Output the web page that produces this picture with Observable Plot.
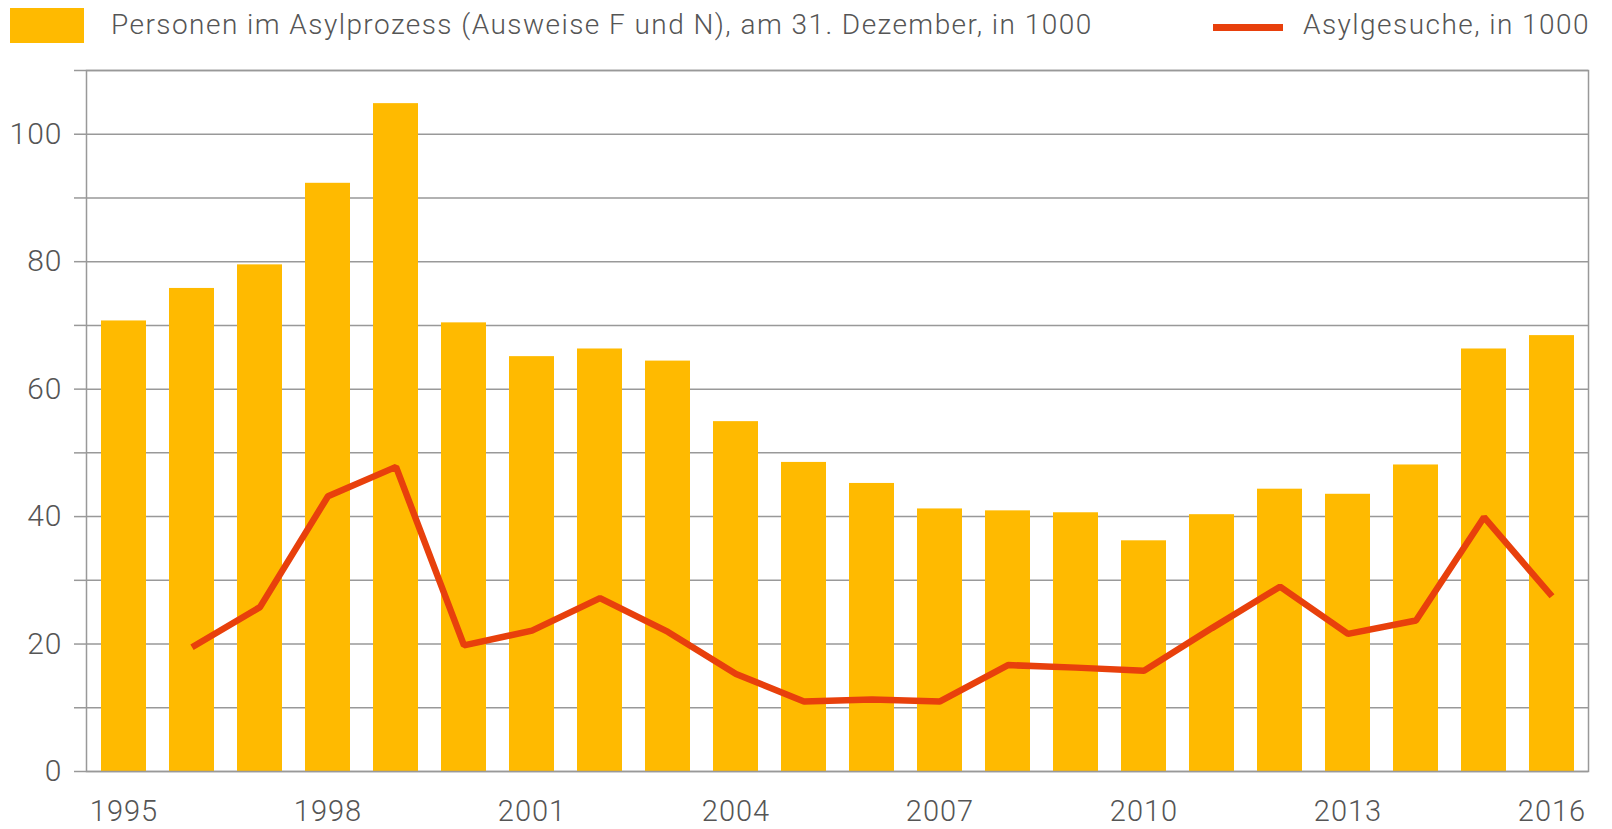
<!DOCTYPE html>
<html>
<head>
<meta charset="utf-8">
<script src="https://cdn.jsdelivr.net/npm/d3@7"></script>
<script src="https://cdn.jsdelivr.net/npm/@observablehq/plot@0.6"></script>
<style>
  html, body { margin: 0; padding: 0; background: #fff; }
  body { width: 1612px; height: 829px; overflow: hidden; font-family: Roboto, sans-serif; font-weight: 300; color: #555; }
  #legend { position: relative; height: 55px; width: 1612px; }
  .sw { position: absolute; }
  .lt { position: absolute; font-size: 28px; line-height: 1; white-space: nowrap; color: #555; letter-spacing: 1.45px; }
  #chart svg { display: block; }
  #chart svg text { letter-spacing: 1px; }
</style>
</head>
<body>
<div id="legend">
  <div class="sw" id="sw1" style="left:10px; top:8px; width:74px; height:35px;"></div>
  <div class="lt" id="lt1" style="left:111px; top:11px;"></div>
  <div class="sw" id="sw2" style="left:1213px; top:24px; width:70px; height:7px;"></div>
  <div class="lt" id="lt2" style="left:1303px; top:11px;"></div>
</div>
<div id="chart"></div>
<script>
const years = [1995,1996,1997,1998,1999,2000,2001,2002,2003,2004,2005,2006,2007,2008,2009,2010,2011,2012,2013,2014,2015,2016];
const personen = [70.7,75.8,79.5,92.3,104.8,70.4,65.1,66.3,64.4,54.9,48.5,45.2,41.2,40.9,40.6,36.2,40.3,44.3,43.5,48.1,66.3,68.4];
const gesuche = [null,19.5,25.8,43.2,47.8,19.8,22.1,27.2,21.9,15.3,11.0,11.3,11.0,16.7,16.3,15.8,22.5,29.0,21.6,23.7,39.9,27.5];
const xTicks = [1995,1998,2001,2004,2007,2010,2013,2016];
const yTicks = [0,10,20,30,40,50,60,70,80,90,100,110];
const yLabels = [0,20,40,60,80,100];
const seriesNames = ["Personen im Asylprozess (Ausweise F und N), am 31. Dezember, in 1000", "Asylgesuche, in 1000"];
const barColor = "#FFBA00";
const lineColor = "#E8400C";

document.getElementById("sw1").style.background = barColor;
document.getElementById("sw2").style.background = lineColor;
document.getElementById("lt1").textContent = seriesNames[0];
document.getElementById("lt2").textContent = seriesNames[1];

const bars = years.map((y, i) => ({year: y, value: personen[i]}));
const line = years.map((y, i) => ({year: y, value: gesuche[i]})).filter(d => d.value != null);

const chart = Plot.plot({
  width: 1612,
  height: 774,
  marginTop: 15,
  marginBottom: 58,
  marginLeft: 86,
  marginRight: 24,
  style: {fontFamily: "Roboto, sans-serif", fontWeight: 300, color: "#555", background: "#fff"},
  x: {type: "band", domain: years, paddingInner: 0.34, paddingOuter: 0.17, label: null},
  y: {domain: [0, 110], label: null},
  marks: [
    Plot.ruleY(yTicks, {stroke: "#999", strokeWidth: 1.5, strokeOpacity: 1}),
    Plot.barY(bars, {x: "year", y: "value", fill: barColor}),
    Plot.frame({stroke: "#999", strokeWidth: 1.5}),
    Plot.axisY({ticks: yTicks, tickSize: 12, tickPadding: 12, tickFormat: d => yLabels.includes(d) ? String(d) : "", fontSize: 30, stroke: "#999", strokeWidth: 1.5, strokeOpacity: 1, fill: "#555", label: null}),
    Plot.axisX({ticks: xTicks, tickSize: 0, tickPadding: 29, tickFormat: d => String(d), fontSize: 29, fill: "#555", label: null}),
    Plot.line(line, {x: "year", y: "value", stroke: lineColor, strokeWidth: 6.5, strokeLinejoin: "miter", strokeLinecap: "butt"})
  ]
});
document.getElementById("chart").appendChild(chart);
</script>
</body>
</html>
